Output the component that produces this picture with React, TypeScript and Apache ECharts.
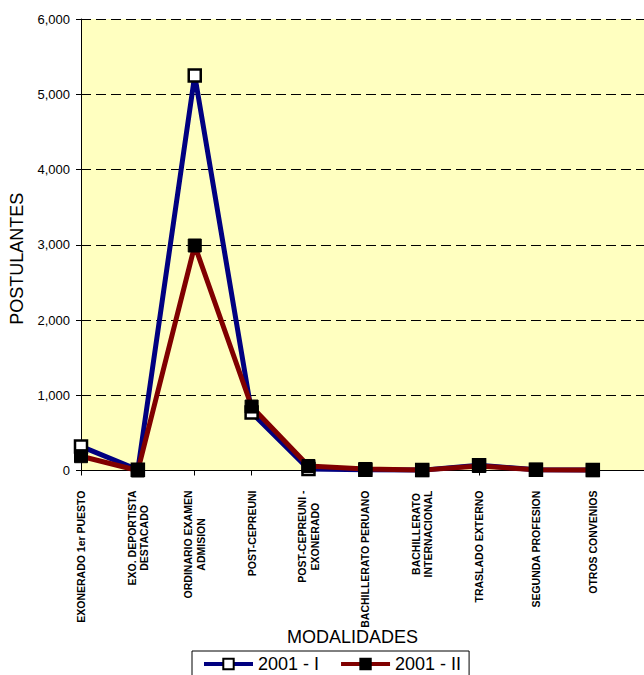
import React, { useEffect, useRef } from "react";
import * as echarts from "echarts";

const categories = [
  "EXONERADO 1er PUESTO",
  "EXO. DEPORTISTA\nDESTACADO",
  "ORDINARIO EXAMEN\nADMISION",
  "POST-CEPREUNI",
  "POST-CEPREUNI -\nEXONERADO",
  "BACHILLERATO PERUANO",
  "BACHILLERATO\nINTERNACIONAL",
  "TRASLADO EXTERNO",
  "SEGUNDA PROFESION",
  "OTROS CONVENIOS",
];

const seriesINames = "2001 - I";
const seriesIINames = "2001 - II";
const series2001I = [320, 10, 5250, 770, 20, 10, 5, 70, 10, 5];
const series2001II = [190, 0, 2990, 850, 60, 20, 5, 60, 10, 5];

const yTicks = { min: 0, max: 6000, interval: 1000 };

const FONT = "'Liberation Sans', Arial, sans-serif";

export default function App() {
  const ref = useRef<HTMLDivElement>(null);
  useEffect(() => {
    if (!ref.current) return;
    const chart = echarts.init(ref.current, undefined, { renderer: "svg" });
    const toPairs = (arr: number[]) => arr.map((v, i) => [i, v]);
    chart.setOption({
      animation: false,
      textStyle: { fontFamily: FONT, color: "#000" },
      grid: {
        left: 81,
        top: 19,
        right: 0,
        bottom: 204.5,
        show: true,
        backgroundColor: "#FFFFC0",
        borderWidth: 0,
      },
      legend: {
        left: 192,
        top: 651,
        orient: "horizontal",
        data: [seriesINames, seriesIINames],
        itemWidth: 49,
        itemHeight: 13,
        itemGap: 20,
        padding: [4, 8, 8, 10],
        borderColor: "#000",
        borderWidth: 1,
        lineStyle: { width: 4 },
        textStyle: { fontFamily: FONT, fontSize: 18, color: "#000", padding: [0, 0, 0, 0] },
      },
      xAxis: {
        type: "value",
        min: 0,
        max: 9.9,
        interval: 1,
        name: "MODALIDADES",
        nameLocation: "middle",
        nameGap: 157,
        nameMoveOverlap: false,
        nameTextStyle: { fontFamily: FONT, fontSize: 18, color: "#000", padding: [0, 20, 0, 0] },
        axisLine: { show: true, onZero: false, lineStyle: { color: "#000", width: 1 } },
        axisTick: { show: true, length: 5, lineStyle: { color: "#000" } },
        splitLine: { show: false },
        axisLabel: {
          rotate: 90,
          margin: 20,
          showMaxLabel: false,
          formatter: (v: number) => {
            const s = categories[v];
            if (!s) return "";
            return s
              .split("\n")
              .map((l) => `{c|${l}}`)
              .join("\n");
          },
          rich: {
            c: {
              align: "center",
              fontFamily: FONT,
              fontSize: 10.5,
              fontWeight: "bold",
              lineHeight: 12.5,
              color: "#000",
            },
          },
        },
      },
      yAxis: {
        type: "value",
        min: yTicks.min,
        max: yTicks.max,
        interval: yTicks.interval,
        name: "POSTULANTES",
        nameLocation: "middle",
        nameRotate: 90,
        nameGap: 55,
        nameTextStyle: { fontFamily: FONT, fontSize: 18, color: "#000", padding: [0, 28, 0, 0] },
        axisLine: { show: true, lineStyle: { color: "#000", width: 1 } },
        axisTick: { show: true, length: 5, lineStyle: { color: "#000" } },
        axisLabel: {
          margin: 11,
          fontFamily: FONT,
          fontSize: 13,
          color: "#000",
          formatter: (v: number) => v.toLocaleString("en-US"),
        },
        splitLine: {
          show: true,
          lineStyle: { color: "#000", width: 1, type: [10, 5] },
        },
      },
      series: [
        {
          name: seriesINames,
          type: "line",
          data: toPairs(series2001I),
          symbol: "rect",
          symbolSize: 12,
          showAllSymbol: true,
          lineStyle: { color: "#000080", width: 5 },
          itemStyle: { color: "#FFFFFF", borderColor: "#000", borderWidth: 2.5 },
        },
        {
          name: seriesIINames,
          type: "line",
          data: toPairs(series2001II),
          symbol: "rect",
          symbolSize: 13,
          showAllSymbol: true,
          lineStyle: { color: "#800000", width: 5 },
          itemStyle: { color: "#000000", borderColor: "#000", borderWidth: 1 },
        },
      ],
    });
    return () => chart.dispose();
  }, []);
  return (
    <div
      ref={ref}
      style={{ position: "fixed", left: 0, top: 0, width: 644, height: 675, background: "#fff" }}
    />
  );
}
